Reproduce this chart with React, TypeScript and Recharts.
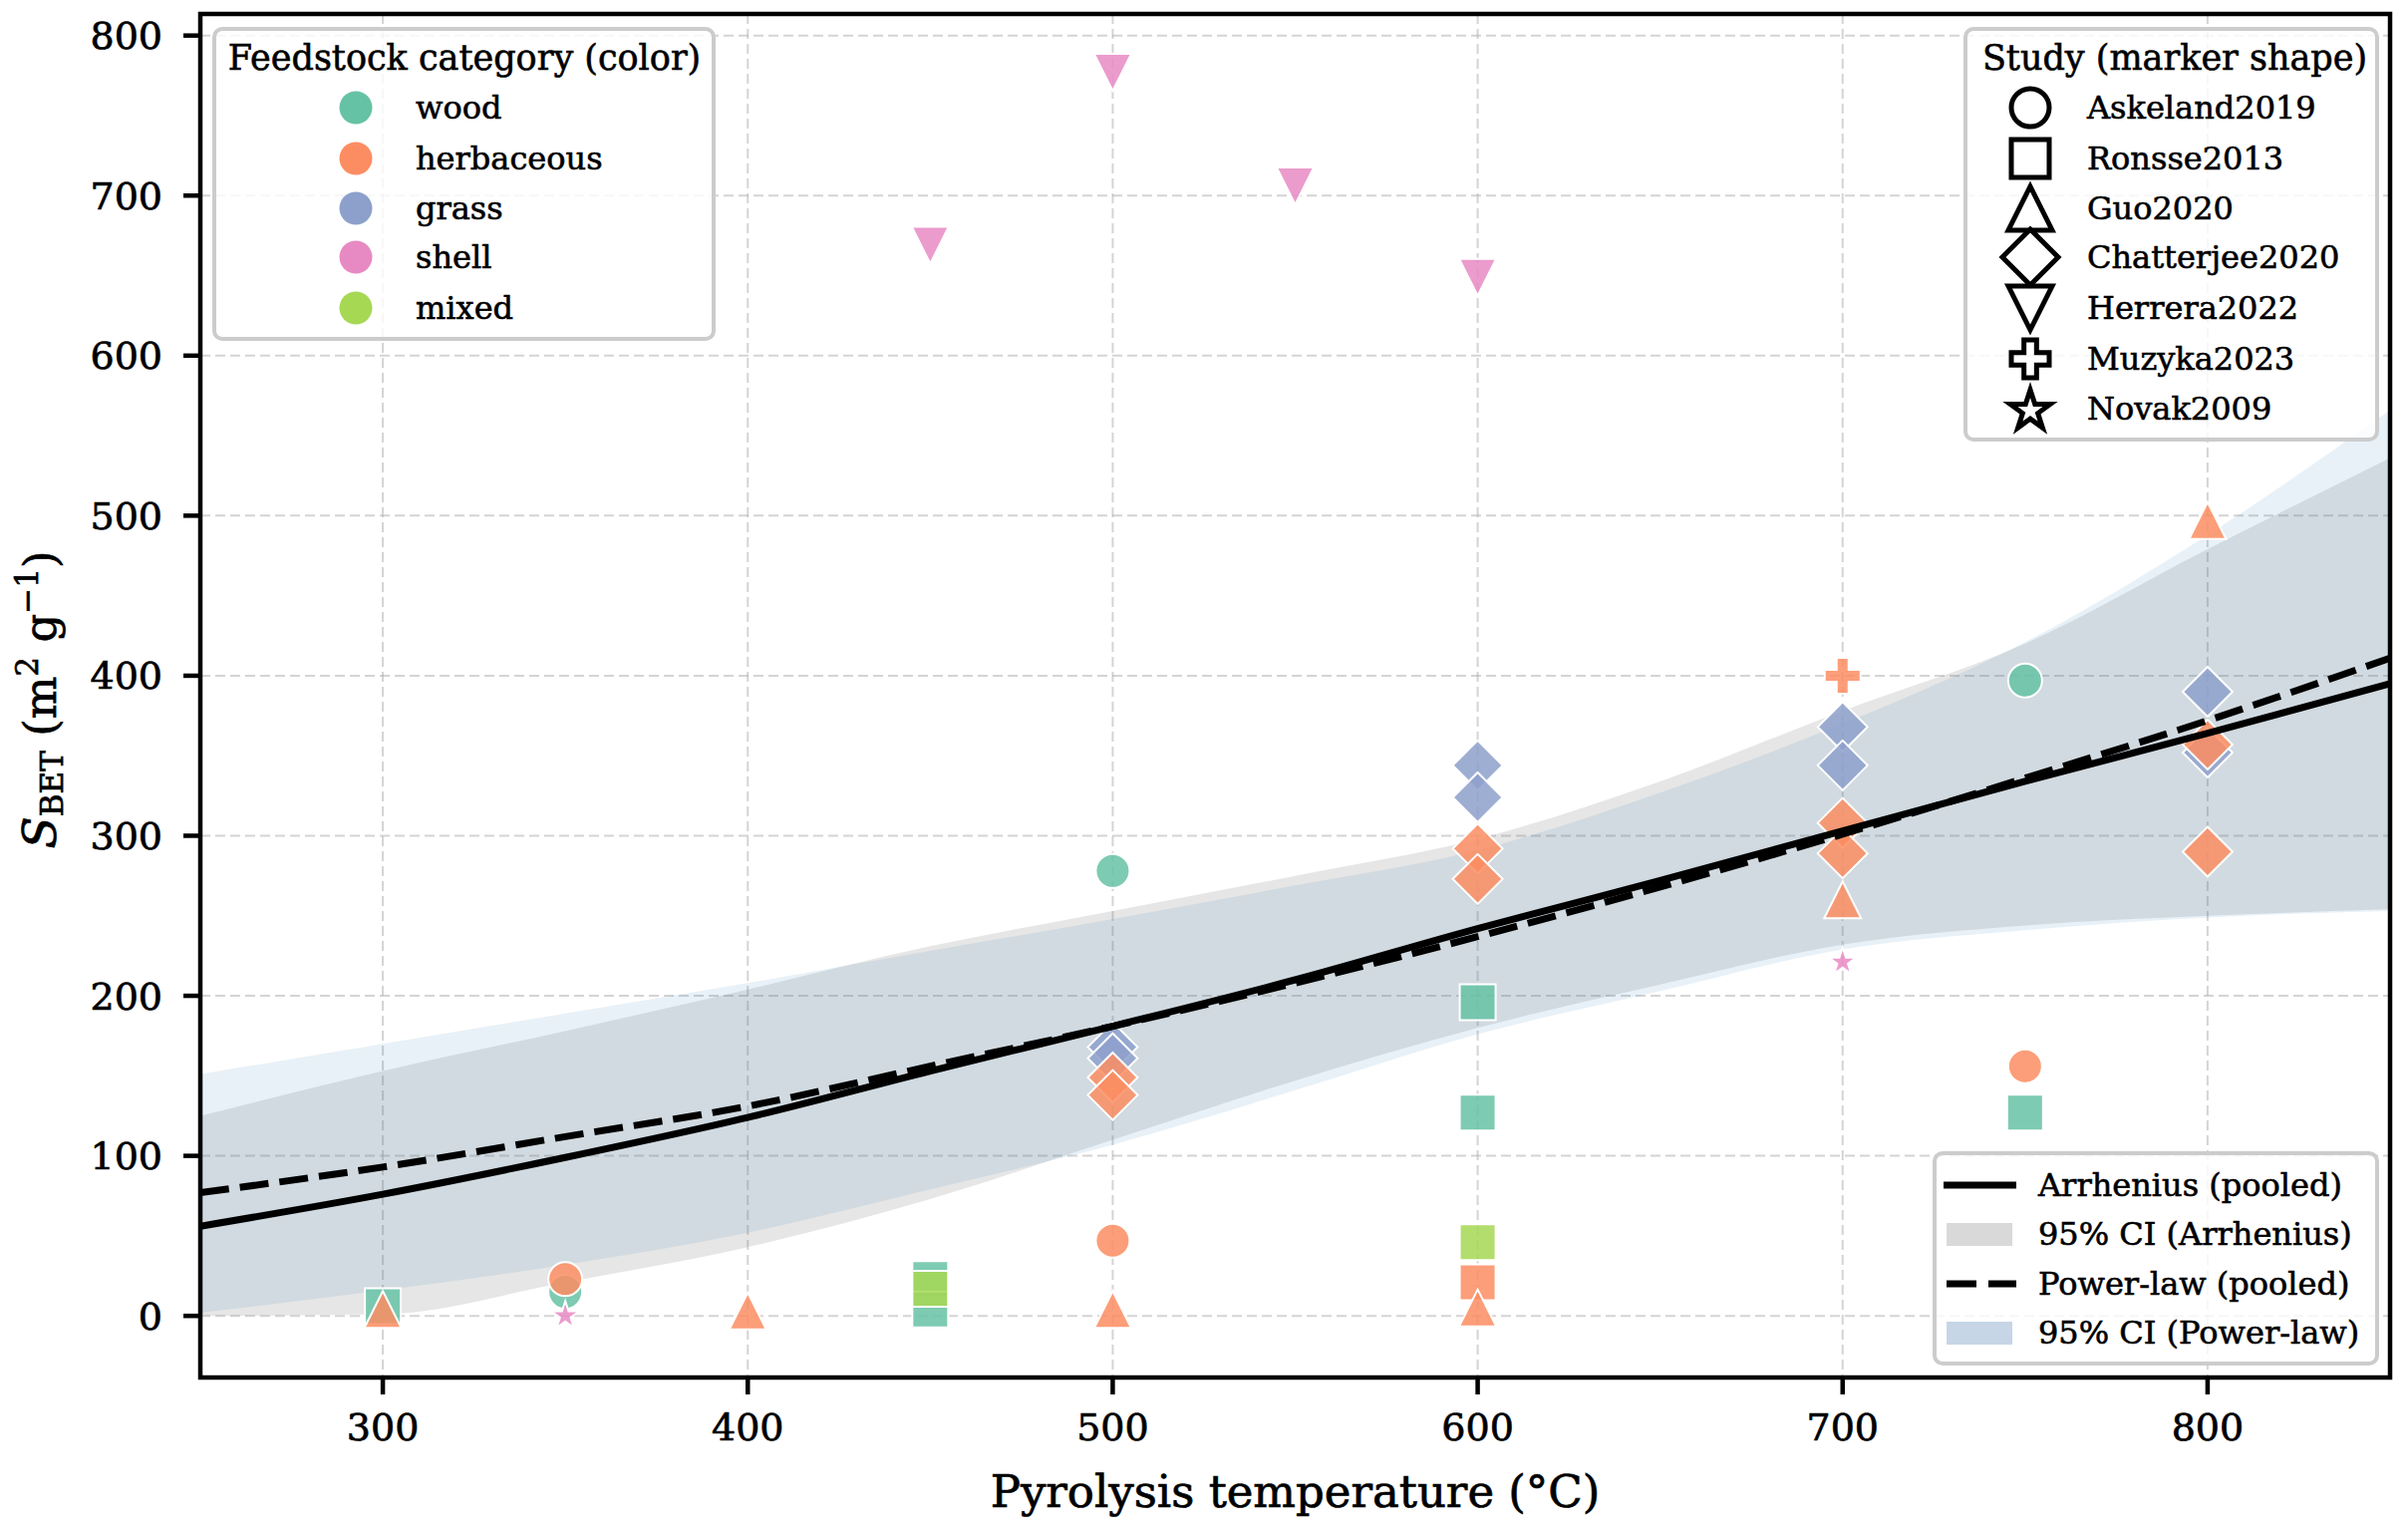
import React from 'react';
import { ComposedChart, Area, Line, Scatter, XAxis, YAxis, CartesianGrid } from 'recharts';

const FONT = '"DejaVu Serif", "Liberation Serif", serif';

// ---- fitted curves (every 50 °C) ----
const temps = [250, 300, 350, 400, 450, 500, 550, 600, 650, 700, 750, 800, 850];
const arrFit = [56, 76, 99, 124, 153, 181, 210, 242, 272, 303, 334, 364, 395];
const powFit = [77, 93, 112, 131, 156, 181, 208, 237, 268, 301, 336, 372, 411];
const arrLo = [0, 1, 21, 43, 73, 110, 147, 180, 207, 232, 244, 250, 254];
const arrHi = [125, 153, 178, 204, 231, 253, 275, 298, 334, 378, 420, 479, 536];
const powLo = [2, 16, 32, 52, 79, 107, 141, 176, 203, 229, 241, 249, 253];
const powHi = [151, 170, 189, 208, 228, 248, 269, 291, 327, 370, 421, 488, 566];

// ---- observations (temperature °C, S_BET m2/g) ----
const askelandWood = [{ T: 350, v: 15 }, { T: 500, v: 278 }, { T: 750, v: 397 }];
const askelandHerb = [{ T: 350, v: 23 }, { T: 500, v: 47 }, { T: 750, v: 156 }];
const ronsseWood = [{ T: 300, v: 6 }, { T: 450, v: 23 }, { T: 450, v: 4 }, { T: 600, v: 196 }, { T: 600, v: 127 }, { T: 750, v: 127 }];
const ronsseHerb = [{ T: 600, v: 21 }];
const ronsseMixed = [{ T: 450, v: 17 }, { T: 600, v: 46 }];
const guoHerb = [{ T: 300, v: 4 }, { T: 400, v: 3 }, { T: 500, v: 4 }, { T: 600, v: 5 }, { T: 700, v: 260 }, { T: 800, v: 497 }];
const chatterjeeGrass = [{ T: 500, v: 168 }, { T: 500, v: 161 }, { T: 600, v: 344 }, { T: 600, v: 324 }, { T: 700, v: 368 }, { T: 700, v: 344 }, { T: 800, v: 390 }, { T: 800, v: 352 }];
const chatterjeeHerb = [{ T: 500, v: 149 }, { T: 500, v: 138 }, { T: 600, v: 292 }, { T: 600, v: 273 }, { T: 700, v: 308 }, { T: 700, v: 289 }, { T: 800, v: 357 }, { T: 800, v: 290 }];
const herreraShell = [{ T: 450, v: 669 }, { T: 500, v: 777 }, { T: 550, v: 706 }, { T: 600, v: 649 }];
const muzykaHerb = [{ T: 700, v: 400 }];
const novakShell = [{ T: 350, v: 1 }, { T: 700, v: 222 }];

const categories = ['wood', 'herbaceous', 'grass', 'shell', 'mixed'];
const studies = ['Askeland2019', 'Ronsse2013', 'Guo2020', 'Chatterjee2020', 'Herrera2022', 'Muzyka2023', 'Novak2009'];
const xTicks = [300, 400, 500, 600, 700, 800];
const yTicks = [0, 100, 200, 300, 400, 500, 600, 700, 800];

// ---- styles ----
const CAT_COLOR: Record<string, string> = {
  wood: '#66c2a5',
  herbaceous: '#fc8d62',
  grass: '#8da0cb',
  shell: '#e78ac3',
  mixed: '#a6d854',
};
const STUDY_SHAPE: Record<string, string> = {
  Askeland2019: 'circle',
  Ronsse2013: 'square',
  Guo2020: 'triUp',
  Chatterjee2020: 'diamond',
  Herrera2022: 'triDown',
  Muzyka2023: 'plus',
  Novak2009: 'star',
};
const DATA_SIZE: Record<string, number> = { circle: 34, square: 36, triUp: 37, triDown: 37, diamond: 50, plus: 36, star: 28 };
const LEG_SIZE: Record<string, number> = { circle: 38, square: 38, triUp: 44, triDown: 44, diamond: 56, plus: 38, star: 40 };

const series = [
  { study: 'Askeland2019', cat: 'wood', data: askelandWood },
  { study: 'Askeland2019', cat: 'herbaceous', data: askelandHerb },
  { study: 'Ronsse2013', cat: 'wood', data: ronsseWood },
  { study: 'Ronsse2013', cat: 'herbaceous', data: ronsseHerb },
  { study: 'Ronsse2013', cat: 'mixed', data: ronsseMixed },
  { study: 'Guo2020', cat: 'herbaceous', data: guoHerb },
  { study: 'Chatterjee2020', cat: 'grass', data: chatterjeeGrass },
  { study: 'Chatterjee2020', cat: 'herbaceous', data: chatterjeeHerb },
  { study: 'Herrera2022', cat: 'shell', data: herreraShell },
  { study: 'Muzyka2023', cat: 'herbaceous', data: muzykaHerb },
  { study: 'Novak2009', cat: 'shell', data: novakShell },
];

const curveRows = temps.map((T, i) => ({
  T,
  arr: arrFit[i],
  pow: powFit[i],
  arrBand: [arrLo[i], arrHi[i]],
  powBand: [powLo[i], powHi[i]],
}));

// ---- layout ----
const W = 2416;
const H = 1535;
const M = { top: 14, right: 18, bottom: 53, left: 51 };
const YW = 150;
const XH = 100;
const PL = M.left + YW;
const PT = M.top;
const PR = W - M.right;
const PB = H - M.bottom - XH;

function glyphPath(kind: string, cx: number, cy: number, s: number): string {
  const h = s / 2;
  switch (kind) {
    case 'square':
      return `M${cx - h},${cy - h}H${cx + h}V${cy + h}H${cx - h}Z`;
    case 'triUp':
      return `M${cx},${cy - h}L${cx + h},${cy + h}L${cx - h},${cy + h}Z`;
    case 'triDown':
      return `M${cx},${cy + h}L${cx + h},${cy - h}L${cx - h},${cy - h}Z`;
    case 'diamond':
      return `M${cx},${cy - h}L${cx + h},${cy}L${cx},${cy + h}L${cx - h},${cy}Z`;
    case 'plus': {
      const t = s / 6;
      return `M${cx - t},${cy - h}H${cx + t}V${cy - t}H${cx + h}V${cy + t}H${cx + t}V${cy + h}H${cx - t}V${cy + t}H${cx - h}V${cy - t}H${cx - t}Z`;
    }
    case 'star': {
      const R = s / 1.902;
      const r = R * 0.382;
      let d = '';
      for (let k = 0; k < 10; k++) {
        const a = -Math.PI / 2 + (k * Math.PI) / 5;
        const rr = k % 2 === 0 ? R : r;
        d += (k === 0 ? 'M' : 'L') + (cx + rr * Math.cos(a)).toFixed(2) + ',' + (cy + rr * Math.sin(a) + R * 0.1).toFixed(2);
      }
      return d + 'Z';
    }
    default:
      return '';
  }
}

function Glyph(props: { kind: string; cx: number; cy: number; s: number; fill: string; fillOpacity?: number; stroke: string; strokeWidth: number }) {
  const { kind, cx, cy, s, fill, fillOpacity, stroke, strokeWidth } = props;
  if (kind === 'circle') {
    return <circle cx={cx} cy={cy} r={s / 2} fill={fill} fillOpacity={fillOpacity} stroke={stroke} strokeWidth={strokeWidth} />;
  }
  return <path d={glyphPath(kind, cx, cy, s)} fill={fill} fillOpacity={fillOpacity} stroke={stroke} strokeWidth={strokeWidth} strokeLinejoin="miter" />;
}

const makeShape = (kind: string, color: string) => (p: any) => {
  const { cx, cy } = p;
  if (cx == null || cy == null || isNaN(cx) || isNaN(cy)) return <g />;
  return <Glyph kind={kind} cx={cx} cy={cy} s={DATA_SIZE[kind]} fill={color} fillOpacity={0.85} stroke="#ffffff" strokeWidth={2} />;
};

const tickStyle = { fontSize: 38, fill: '#000', fontFamily: FONT, stroke: '#000', strokeWidth: 0.7 };

function Overlay() {
  const featRows = [108, 159, 209, 258, 309];
  const studyRows = [108, 159, 209, 258, 309, 360, 410];
  const lineRows = [1189, 1238, 1288, 1337];
  const legendText = { fontFamily: FONT, fontSize: 32, fill: '#000', stroke: '#000', strokeWidth: 0.6 } as const;
  const titleText = { ...legendText, fontSize: 35 } as const;
  return (
    <svg width={W} height={H} style={{ position: 'absolute', left: 0, top: 0, pointerEvents: 'none' }}>
      {/* frame */}
      <rect x={PL} y={PT} width={PR - PL} height={PB - PT} fill="none" stroke="#000" strokeWidth={4.5} />

      {/* feedstock legend */}
      <rect x={215} y={29} width={501} height={311} rx={8} fill="#fff" fillOpacity={0.8} stroke="#cccccc" strokeWidth={4} />
      <text x={466} y={58} textAnchor="middle" dominantBaseline="central" {...titleText}>Feedstock category (color)</text>
      {categories.map((c, i) => (
        <g key={c}>
          <circle cx={357} cy={featRows[i]} r={16.5} fill={CAT_COLOR[c]} />
          <text x={417} y={featRows[i]} dominantBaseline="central" {...legendText}>{c}</text>
        </g>
      ))}

      {/* study legend */}
      <rect x={1972} y={29} width={413} height={412} rx={8} fill="#fff" fillOpacity={0.8} stroke="#cccccc" strokeWidth={4} />
      <text x={2182} y={58} textAnchor="middle" dominantBaseline="central" {...titleText}>Study (marker shape)</text>
      {studies.map((s, i) => (
        <g key={s}>
          <Glyph kind={STUDY_SHAPE[s]} cx={2037} cy={studyRows[i]} s={LEG_SIZE[STUDY_SHAPE[s]]} fill="none" stroke="#000" strokeWidth={5} />
          <text x={2094} y={studyRows[i]} dominantBaseline="central" {...legendText}>{s}</text>
        </g>
      ))}

      {/* fit legend */}
      <rect x={1941} y={1157} width={444} height={211} rx={8} fill="#fff" fillOpacity={0.8} stroke="#cccccc" strokeWidth={4} />
      <line x1={1950} x2={2023} y1={lineRows[0]} y2={lineRows[0]} stroke="#000" strokeWidth={7} />
      <rect x={1953} y={lineRows[1] - 11} width={66} height={23} fill="#d9d9d9" />
      <line x1={1953} x2={2023} y1={lineRows[2]} y2={lineRows[2]} stroke="#000" strokeWidth={7} strokeDasharray="30 12" />
      <rect x={1953} y={lineRows[3] - 11} width={66} height={23} fill="#c6d6e6" />
      <text x={2045} y={lineRows[0]} dominantBaseline="central" {...legendText}>Arrhenius (pooled)</text>
      <text x={2045} y={lineRows[1]} dominantBaseline="central" {...legendText}>95% CI (Arrhenius)</text>
      <text x={2045} y={lineRows[2]} dominantBaseline="central" {...legendText}>Power-law (pooled)</text>
      <text x={2045} y={lineRows[3]} dominantBaseline="central" {...legendText}>95% CI (Power-law)</text>

      {/* axis labels */}
      <text x={(PL + PR) / 2} y={1512} textAnchor="middle" fontFamily={FONT} fontSize={45} fill="#000" stroke="#000" strokeWidth={0.7}>Pyrolysis temperature (°C)</text>
      <text transform={`translate(56, 702) rotate(-90)`} textAnchor="middle" fontFamily={FONT} fontSize={45} fill="#000" stroke="#000" strokeWidth={0.7}>
        <tspan fontStyle="italic" fontSize={47}>S</tspan>
        <tspan fontSize={31} dy={7}>BET</tspan>
        <tspan dy={-7}> (m</tspan>
        <tspan fontSize={31} dy={-18}>2</tspan>
        <tspan dy={18}> g</tspan>
        <tspan fontSize={31} dy={-18}>−1</tspan>
        <tspan dy={18}>)</tspan>
      </text>
    </svg>
  );
}

export default function App() {
  return (
    <div style={{ position: 'absolute', left: 0, top: 0, width: W, height: H, background: '#fff' }}>
      <ComposedChart width={W} height={H} data={curveRows} margin={M}>
        <CartesianGrid stroke="#b0b0b0" strokeOpacity={0.55} strokeDasharray="10 5" strokeWidth={2} />
        <XAxis
          type="number"
          dataKey="T"
          domain={[250, 850]}
          ticks={xTicks}
          interval={0}
          allowDataOverflow
          height={XH}
          tickSize={17}
          tickMargin={19}
          tick={tickStyle}
          tickLine={{ stroke: '#000', strokeWidth: 4.5 }}
          axisLine={false}
        />
        <YAxis
          type="number"
          domain={[-38.5, 813.5]}
          ticks={yTicks}
          interval={0}
          allowDataOverflow
          width={YW}
          tickSize={17}
          tickMargin={21}
          tick={tickStyle}
          tickLine={{ stroke: '#000', strokeWidth: 4.5 }}
          axisLine={false}
        />
        <Area dataKey="arrBand" type="monotone" fill="#808080" fillOpacity={0.2} stroke="none" dot={false} activeDot={false} isAnimationActive={false} />
        <Area dataKey="powBand" type="monotone" fill="#1f77b4" fillOpacity={0.1} stroke="none" dot={false} activeDot={false} isAnimationActive={false} />
        {series.map((s, i) => (
          <Scatter
            key={i}
            name={`${s.study}-${s.cat}`}
            data={s.data}
            dataKey="v"
            shape={makeShape(STUDY_SHAPE[s.study], CAT_COLOR[s.cat])}
            isAnimationActive={false}
          />
        ))}
        <Line dataKey="arr" type="monotone" stroke="#000" strokeWidth={7} dot={false} activeDot={false} isAnimationActive={false} zIndex={650} />
        <Line dataKey="pow" type="monotone" stroke="#000" strokeWidth={7} strokeDasharray="29 11" dot={false} activeDot={false} isAnimationActive={false} zIndex={650} />
      </ComposedChart>
      <Overlay />
    </div>
  );
}
